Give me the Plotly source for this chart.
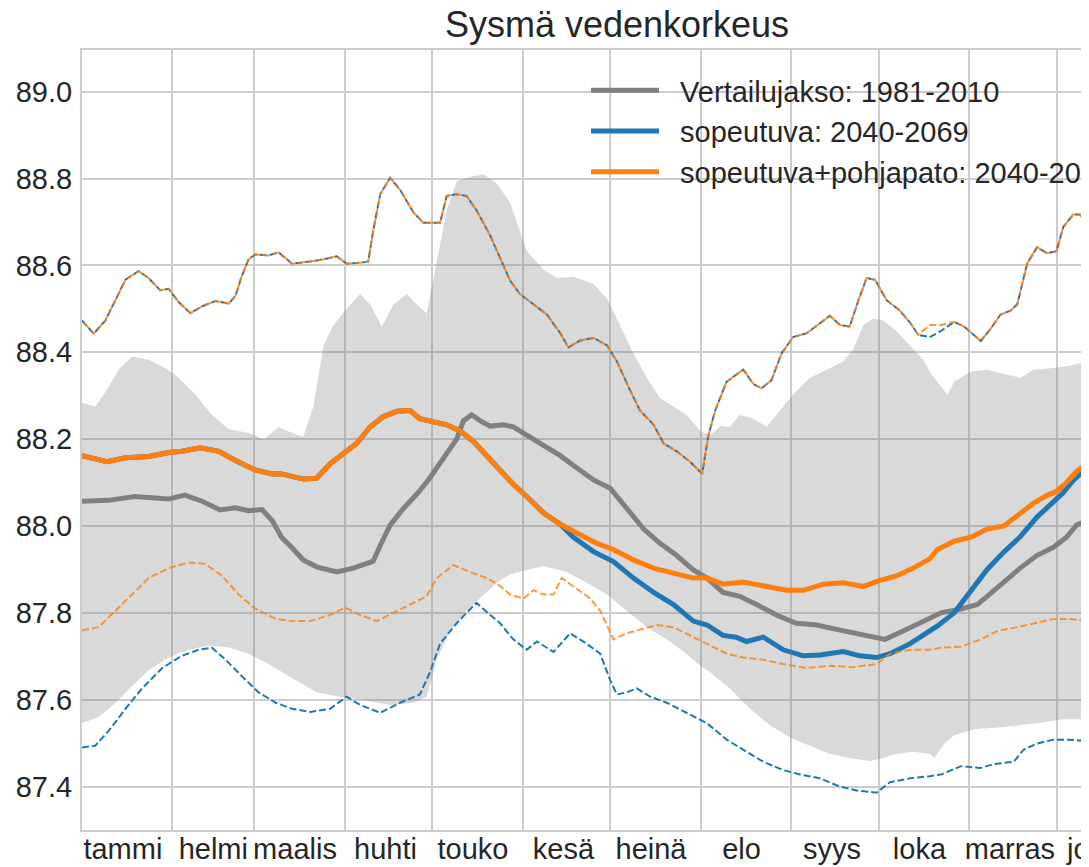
import plotly.graph_objects as go

# ---------------- data (day of year, water level m) ----------------
month_names = ["tammi", "helmi", "maalis", "huhti", "touko", "kesä",
               "heinä", "elo", "syys", "loka", "marras", "joulu"]
month_start_day = [31, 59, 90, 120, 151, 181, 212, 243, 273, 304, 334]
month_label_day = [14, 45, 73, 104, 134, 165, 195, 226, 257, 287, 318, 348]
y_ticks = [87.4, 87.6, 87.8, 88.0, 88.2, 88.4, 88.6, 88.8, 89.0]
x_range = [0, 345.1]

band_max_day = [0, 4.5, 8, 12.6, 17.1, 22.8, 28.6, 33.2, 38.8, 44.5, 50.3, 57.1, 62.3, 67.4, 72,
                75.8, 79.3, 82.8, 86.2, 90.7, 95.3, 98.7, 102.8, 106.7, 111.3, 114.7, 118.1, 121.6,
                125, 128.4, 133, 137.6, 142.2, 146.7, 152.4, 158.2, 162.7, 168.4, 175.3, 179.9,
                184.4, 189, 193.6, 198.1, 202.7, 207.2, 211.9, 215.3, 218.7, 222, 225.4, 230.1,
                234.6, 239.2, 243.7, 249.4, 255.2, 260.9, 264.3, 267.8, 271.2, 274.5, 279.1, 283.8,
                288.3, 291, 294.4, 296.6, 298.9, 304.6, 310.2, 315.9, 321.5, 326, 332.9, 338.5, 345.5]
band_max_val = [88.284, 88.275, 88.308, 88.36, 88.39, 88.383, 88.364, 88.341, 88.303, 88.256,
                88.223, 88.214, 88.2, 88.228, 88.214, 88.205, 88.275, 88.416, 88.463, 88.5,
                88.534, 88.51, 88.459, 88.51, 88.534, 88.51, 88.49, 88.614, 88.727, 88.793,
                88.804, 88.81, 88.788, 88.745, 88.633, 88.59, 88.571, 88.574, 88.557, 88.524,
                88.463, 88.397, 88.341, 88.294, 88.275, 88.256, 88.219, 88.209, 88.23, 88.228,
                88.256, 88.247, 88.228, 88.266, 88.303, 88.341, 88.36, 88.379, 88.407, 88.463,
                88.477, 88.473, 88.449, 88.416, 88.383, 88.35, 88.322, 88.303, 88.332, 88.355,
                88.36, 88.35, 88.341, 88.36, 88.364, 88.369, 88.38]

band_min_day = [0, 5.7, 11.5, 17.1, 22.8, 29.7, 36.6, 43.4, 50.3, 57.1, 64, 70.9, 80.4, 88.5,
                97.5, 105.6, 113.6, 118.1, 121.6, 126.1, 131.8, 137.6, 142.2, 146.7, 150.1, 158.2,
                166.1, 172.9, 179.9, 186.7, 193.6, 200.4, 206.1, 211.9, 215.2, 222, 228.9, 235.8,
                242.6, 249.4, 256.3, 263.1, 270, 274.5, 279.1, 284.9, 290.6, 292.1, 295.5, 298.9,
                305.7, 315.9, 327.2, 336.3, 345.5]
band_min_val = [87.546, 87.56, 87.593, 87.631, 87.668, 87.697, 87.715, 87.725, 87.72, 87.706,
                87.682, 87.654, 87.617, 87.607, 87.598, 87.588, 87.593, 87.607, 87.692, 87.758,
                87.805, 87.842, 87.87, 87.889, 87.894, 87.908, 87.894, 87.87, 87.842, 87.805,
                87.767, 87.739, 87.711, 87.678, 87.664, 87.626, 87.579, 87.541, 87.513, 87.494,
                87.475, 87.466, 87.459, 87.466, 87.475, 87.48, 87.475, 87.466, 87.499, 87.518,
                87.532, 87.537, 87.546, 87.555, 87.555]

ref_mean_day = [0, 9, 18.1, 29.7, 35.2, 41.2, 47.3, 52.6, 57.1, 61.7, 65.2, 68.4, 72, 75.8, 80.4,
                87.3, 93, 99.8, 102.2, 105.6, 110.1, 114.7, 118.7, 121.6, 125, 128.4, 130.7, 133.5,
                136.5, 139.9, 144.4, 147.8, 152.4, 158.2, 163.9, 169.5, 175.3, 181, 186.7, 192.5,
                198.1, 203.8, 209.5, 214.2, 219.7, 225.4, 231.2, 238, 244.8, 251.8, 258.6, 265.5,
                271.2, 275.2, 281.4, 287.2, 294.4, 301.2, 306.8, 310.2, 315.9, 321.5, 327.2, 332.9,
                337.4, 340.8, 345.5]
ref_mean_val = [88.057, 88.059, 88.068, 88.062, 88.071, 88.057, 88.037, 88.042, 88.035, 88.038,
                88.012, 87.974, 87.95, 87.922, 87.906, 87.894, 87.903, 87.919, 87.955, 88.002,
                88.04, 88.073, 88.106, 88.134, 88.167, 88.2, 88.242, 88.256, 88.242, 88.23,
                88.233, 88.228, 88.209, 88.186, 88.162, 88.134, 88.106, 88.087, 88.04, 87.993,
                87.96, 87.932, 87.899, 87.88, 87.847, 87.838, 87.819, 87.795, 87.776, 87.772,
                87.762, 87.753, 87.744, 87.739, 87.758, 87.776, 87.8, 87.809, 87.819, 87.838,
                87.871, 87.903, 87.932, 87.951, 87.974, 88.002, 88.015]

dam_mean_day = [0, 8.5, 14.9, 22.8, 29.7, 34.2, 40.5, 46.9, 52.6, 59.3, 65.2, 68.4, 75.8, 80.4, 85,
                90.7, 94.1, 98.7, 103.3, 107.9, 112.4, 115.8, 120.5, 125, 129.6, 134.1, 139.9,
                144.4, 147.8, 152.4, 158.2, 163.9, 169.5, 176.5, 182.1, 189, 195.9, 202.7, 209.5,
                214.2, 219.7, 226.6, 233.5, 241.4, 247.2, 254, 260.9, 267.8, 273.5, 279.1, 284.9,
                290.6, 293.2, 298.9, 304.6, 310.2, 315.9, 321.5, 326, 330.6, 334, 337.4, 340.8, 345.5]
dam_mean_val = [88.162, 88.148, 88.157, 88.16, 88.169, 88.172, 88.18, 88.172, 88.151, 88.129,
                88.12, 88.12, 88.108, 88.11, 88.143, 88.172, 88.19, 88.228, 88.252, 88.264,
                88.266, 88.247, 88.24, 88.233, 88.219, 88.195, 88.153, 88.12, 88.096, 88.068,
                88.03, 88.004, 87.983, 87.96, 87.946, 87.922, 87.903, 87.891, 87.88, 87.88,
                87.866, 87.871, 87.861, 87.852, 87.852, 87.866, 87.869, 87.861, 87.875, 87.885,
                87.903, 87.925, 87.946, 87.965, 87.974, 87.993, 88.0, 88.03, 88.052, 88.07,
                88.08, 88.1, 88.125, 88.15]

adapt_mean_day = [0, 8.5, 14.9, 22.8, 29.7, 34.2, 40.5, 46.9, 52.6, 59.3, 65.2, 68.4, 75.8, 80.4,
                  85, 90.7, 94.1, 98.7, 103.3, 107.9, 112.4, 115.8, 120.5, 125, 129.6, 134.1,
                  139.9, 144.4, 147.8, 152.4, 158.2, 163.9, 168.4, 175.3, 182.1, 189, 195.9,
                  202.7, 209.5, 214.2, 219.7, 224.2, 227.7, 233.5, 240.3, 247.2, 252.9, 260.9,
                  266.6, 272.3, 276.9, 283.8, 287.6, 293.2, 298.9, 304.6, 310.2, 315.9, 321.5,
                  327.2, 332.9, 336, 339.7, 345.5]
adapt_mean_val = [88.162, 88.148, 88.157, 88.16, 88.169, 88.172, 88.18, 88.172, 88.151, 88.129,
                  88.12, 88.12, 88.108, 88.11, 88.143, 88.172, 88.19, 88.228, 88.252, 88.264,
                  88.266, 88.247, 88.24, 88.233, 88.219, 88.195, 88.153, 88.12, 88.096, 88.068,
                  88.03, 88.004, 87.974, 87.941, 87.918, 87.88, 87.847, 87.819, 87.781, 87.772,
                  87.748, 87.744, 87.734, 87.744, 87.715, 87.701, 87.703, 87.711, 87.701, 87.697,
                  87.706, 87.729, 87.745, 87.77, 87.80, 87.85, 87.90, 87.94, 87.975, 88.02,
                  88.055, 88.075, 88.105, 88.14]

adapt_low_day = [0, 4.5, 9, 14.9, 20.6, 27.5, 34.2, 40, 44.5, 49.2, 54.8, 60.5, 66.4, 72, 78.1,
                 85, 90.7, 95.3, 102.2, 109, 115.8, 119.3, 122.7, 128.4, 131.8, 135.2, 139.9,
                 143.3, 147.8, 152.4, 155.9, 161.6, 167.3, 172.9, 177.6, 181, 183.3, 186.7, 190.1,
                 194.7, 200.4, 207.2, 214.2, 220.9, 226.6, 233.5, 240.3, 246, 252.9, 259.7, 265.5,
                 272.3, 276.9, 283.8, 290.6, 294.4, 301.2, 308, 312.5, 319.3, 322.7, 327.2, 332.9,
                 338.5, 345.5]
adapt_low_val = [87.49, 87.494, 87.527, 87.579, 87.626, 87.673, 87.701, 87.715, 87.72, 87.692,
                 87.654, 87.617, 87.593, 87.579, 87.572, 87.579, 87.607, 87.588, 87.57, 87.593,
                 87.612, 87.664, 87.729, 87.776, 87.8, 87.823, 87.795, 87.776, 87.739, 87.715,
                 87.734, 87.71, 87.753, 87.729, 87.706, 87.645, 87.612, 87.617, 87.626, 87.607,
                 87.593, 87.57, 87.546, 87.508, 87.485, 87.457, 87.438, 87.428, 87.419, 87.4,
                 87.391, 87.386, 87.41, 87.419, 87.424, 87.428, 87.447, 87.443, 87.452, 87.457,
                 87.485, 87.499, 87.508, 87.508, 87.504]

dam_low_day = [0, 5.7, 11.5, 17.1, 22.8, 29.7, 36.6, 42.2, 48, 53.7, 59.3, 66.4, 72, 78.1, 85,
               90.2, 95.3, 101, 106.7, 113.6, 118.1, 121.6, 127.3, 133, 138.8, 143.3, 146.7, 151.3,
               154.7, 158.2, 161.6, 164.4, 168.4, 174.2, 177.6, 182.1, 186.7, 191.2, 197, 202.7,
               208.4, 214.2, 218.7, 220.9, 226.6, 233.5, 240.3, 248.4, 256.3, 264.3, 272.3, 276.9,
               283.8, 290.6, 294.4, 301.2, 308, 313.6, 320.4, 326, 332.9, 338.5, 345.5]
dam_low_val = [87.76, 87.767, 87.805, 87.842, 87.88, 87.903, 87.916, 87.913, 87.885, 87.842,
               87.81, 87.786, 87.781, 87.781, 87.795, 87.812, 87.795, 87.781, 87.8, 87.823,
               87.838, 87.88, 87.91, 87.894, 87.88, 87.862, 87.842, 87.833, 87.852, 87.842,
               87.842, 87.88, 87.861, 87.833, 87.805, 87.739, 87.753, 87.762, 87.772, 87.767,
               87.748, 87.729, 87.715, 87.706, 87.697, 87.692, 87.682, 87.673, 87.678, 87.675,
               87.682, 87.706, 87.715, 87.715, 87.72, 87.722, 87.739, 87.758, 87.767, 87.776,
               87.786, 87.786, 87.781]

up_day = [0, 4, 8, 11.5, 14.9, 19.4, 22.8, 26.8, 29.7, 33.2, 37.2, 41.2, 45.8, 50.3, 52.6, 54.8,
          57.1, 59.3, 64, 67.4, 72, 78.1, 82.8, 87.3, 90.7, 95.3, 98.1, 99.8, 102.2, 105.6, 109,
          113.6, 117, 122.7, 125, 128.4, 131.8, 135.2, 139.8, 144.4, 146.7, 150.1, 154.7, 159.3,
          163.9, 166.7, 170.7, 175.3, 179.9, 183.3, 187.8, 191.2, 195.9, 199.3, 203.8, 208.4,
          212.5, 214.7, 217, 220.9, 226.6, 230.1, 232.9, 236.3, 239.7, 243.7, 248.4, 252.9, 256.3,
          259.7, 263.1, 266.1, 268.9, 271.8, 275.7, 280.3, 283.8, 286.6, 290.6, 294.4, 298.9,
          302.3, 305.7, 308, 311.4, 314.8, 318.2, 320.5, 323.9, 327.3, 330.7, 334, 336.3, 339.7,
          342, 345.5]
dam_up_val = [88.473, 88.443, 88.473, 88.52, 88.567, 88.587, 88.571, 88.543, 88.546, 88.515,
              88.49, 88.506, 88.518, 88.512, 88.53, 88.576, 88.614, 88.625, 88.623, 88.63,
              88.604, 88.609, 88.614, 88.621, 88.604, 88.606, 88.609, 88.68, 88.764, 88.802,
              88.774, 88.722, 88.698, 88.698, 88.76, 88.764, 88.76, 88.727, 88.67, 88.6,
              88.565, 88.534, 88.51, 88.487, 88.444, 88.411, 88.427, 88.433, 88.416, 88.379,
              88.313, 88.266, 88.233, 88.19, 88.172, 88.148, 88.12, 88.209, 88.266, 88.332,
              88.36, 88.327, 88.317, 88.336, 88.397, 88.435, 88.444, 88.468, 88.484, 88.463,
              88.459, 88.52, 88.571, 88.567, 88.52, 88.496, 88.468, 88.44, 88.463, 88.463,
              88.47, 88.459, 88.44, 88.426, 88.454, 88.487, 88.496, 88.51, 88.604, 88.642,
              88.628, 88.633, 88.689, 88.717, 88.717, 88.68]
adapt_up_val = [88.473, 88.443, 88.473, 88.52, 88.567, 88.587, 88.571, 88.543, 88.546, 88.515,
                88.49, 88.506, 88.518, 88.512, 88.53, 88.576, 88.614, 88.625, 88.623, 88.63,
                88.604, 88.609, 88.614, 88.621, 88.604, 88.606, 88.609, 88.68, 88.764, 88.802,
                88.774, 88.722, 88.698, 88.698, 88.76, 88.764, 88.76, 88.727, 88.67, 88.6,
                88.565, 88.534, 88.51, 88.487, 88.444, 88.411, 88.427, 88.433, 88.416, 88.379,
                88.313, 88.266, 88.233, 88.19, 88.172, 88.148, 88.12, 88.209, 88.266, 88.332,
                88.36, 88.327, 88.317, 88.336, 88.397, 88.435, 88.444, 88.468, 88.484, 88.463,
                88.459, 88.52, 88.571, 88.567, 88.52, 88.496, 88.468, 88.44, 88.435, 88.449,
                88.47, 88.459, 88.44, 88.426, 88.454, 88.487, 88.496, 88.51, 88.604, 88.642,
                88.628, 88.633, 88.689, 88.717, 88.717, 88.68]

# ---------------- styling ----------------
GRAY = "#808080"
BLUE = "#1f77b4"
ORANGE = "#ff7f0e"
GRID = "#cccccc"
TXT = "#262626"
FONT = "Liberation Sans, Arial, sans-serif"
GAP = "\u00a0\u00a0"

fig = go.Figure()

fig.add_trace(go.Scatter(
    x=band_max_day + band_min_day[::-1],
    y=band_max_val + band_min_val[::-1],
    fill="toself", fillcolor="rgba(128,128,128,0.3)",
    line=dict(width=0), mode="lines", showlegend=False, hoverinfo="skip"))

fig.add_trace(go.Scatter(x=ref_mean_day, y=ref_mean_val, mode="lines",
                         line=dict(color=GRAY, width=5),
                         name=GAP + "Vertailujakso: 1981-2010"))

fig.add_trace(go.Scatter(x=up_day, y=adapt_up_val, mode="lines",
                         line=dict(color=BLUE, width=2, dash="7px,3px"),
                         showlegend=False))
fig.add_trace(go.Scatter(x=adapt_low_day, y=adapt_low_val, mode="lines",
                         line=dict(color=BLUE, width=2, dash="7px,3px"),
                         showlegend=False))
fig.add_trace(go.Scatter(x=adapt_mean_day, y=adapt_mean_val, mode="lines",
                         line=dict(color=BLUE, width=5),
                         name=GAP + "sopeutuva: 2040-2069"))

fig.add_trace(go.Scatter(x=up_day, y=dam_up_val, mode="lines",
                         line=dict(color="rgba(255,127,14,0.85)", width=2,
                                   dash="0px,3px,7px,0px"),
                         showlegend=False))
fig.add_trace(go.Scatter(x=dam_low_day, y=dam_low_val, mode="lines",
                         line=dict(color="rgba(255,127,14,0.8)", width=2, dash="7px,3px"),
                         showlegend=False))
fig.add_trace(go.Scatter(x=dam_mean_day, y=dam_mean_val, mode="lines",
                         line=dict(color=ORANGE, width=5),
                         name=GAP + "sopeutuva+pohjapato: 2040-2069"))

# the page body adds an 8 px offset on the left and top
OFF = 8
W, H = 1089 - OFF, 867 - OFF
L, R, T, B = 82 - OFF, 0, 50 - OFF, 37
PW, PH = W - L - R, H - T - B

fig.update_layout(
    width=W, height=H,
    margin=dict(l=L, r=R, t=T, b=B, autoexpand=False),
    paper_bgcolor="white", plot_bgcolor="white",
    font=dict(family=FONT, size=29, color=TXT),
    title=dict(text="Sysmä vedenkorkeus", xref="container", x=(617 - OFF) / W,
               xanchor="center", yref="container", y=1 - (24 - OFF) / H, yanchor="middle",
               font=dict(family=FONT, size=36, color=TXT)),
    legend=dict(x=(586 - 82) / PW, y=1 - (65 - 50) / PH,
                xanchor="left", yanchor="top", bgcolor="rgba(0,0,0,0)",
                font=dict(family=FONT, size=29, color=TXT), itemwidth=68,
                tracegroupgap=0),
    xaxis=dict(range=x_range, tickmode="array", tickvals=month_label_day,
               ticktext=month_names, showgrid=False, zeroline=False,
               showline=True, mirror=True, linecolor=GRID, linewidth=2,
               ticks="", ticklabelstandoff=-8,
               tickfont=dict(family=FONT, size=29, color=TXT),
               minor=dict(tickmode="array", tickvals=month_start_day, showgrid=True,
                          gridcolor=GRID, gridwidth=2, ticks="")),
    yaxis=dict(range=[87.30, 89.096], tickmode="array", tickvals=y_ticks,
               tickformat=".1f", showgrid=True, gridcolor=GRID, gridwidth=2,
               zeroline=False, showline=True, mirror=False, linecolor=GRID, linewidth=2,
               ticks="outside", ticklen=2, tickcolor="rgba(0,0,0,0)",
               tickfont=dict(family=FONT, size=29, color=TXT)),
)

# December label sits just past the visible range (cropped at the right edge)
fig.add_annotation(x=month_label_day[-1] / x_range[1], xref="paper", xanchor="center",
                   y=0, yref="paper", yanchor="top", yshift=-1,
                   text=month_names[-1], showarrow=False,
                   font=dict(family=FONT, size=29, color=TXT))

fig.write_html("out.html")
